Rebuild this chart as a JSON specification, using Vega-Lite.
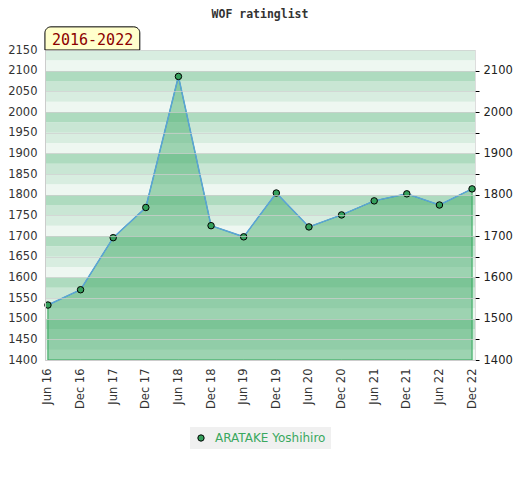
{
  "$schema": "https://vega.github.io/schema/vega-lite/v6.json",
  "width": 430,
  "height": 310,
  "autosize": "none",
  "padding": {"left": 45, "top": 50, "right": 45, "bottom": 120},
  "title": {
    "text": "WOF ratinglist",
    "font": "DejaVu Sans Mono",
    "fontSize": 11.5,
    "fontWeight": "bold",
    "color": "#333333",
    "anchor": "middle",
    "offset": 6
  },
  "datasets": {
    "ratings": [
      {"period": "Jun 16", "rating": 1533, "player": "ARATAKE Yoshihiro"},
      {"period": "Dec 16", "rating": 1570, "player": "ARATAKE Yoshihiro"},
      {"period": "Jun 17", "rating": 1696, "player": "ARATAKE Yoshihiro"},
      {"period": "Dec 17", "rating": 1769, "player": "ARATAKE Yoshihiro"},
      {"period": "Jun 18", "rating": 2086, "player": "ARATAKE Yoshihiro"},
      {"period": "Dec 18", "rating": 1725, "player": "ARATAKE Yoshihiro"},
      {"period": "Jun 19", "rating": 1698, "player": "ARATAKE Yoshihiro"},
      {"period": "Dec 19", "rating": 1804, "player": "ARATAKE Yoshihiro"},
      {"period": "Jun 20", "rating": 1722, "player": "ARATAKE Yoshihiro"},
      {"period": "Dec 20", "rating": 1751, "player": "ARATAKE Yoshihiro"},
      {"period": "Jun 21", "rating": 1785, "player": "ARATAKE Yoshihiro"},
      {"period": "Dec 21", "rating": 1802, "player": "ARATAKE Yoshihiro"},
      {"period": "Jun 22", "rating": 1775, "player": "ARATAKE Yoshihiro"},
      {"period": "Dec 22", "rating": 1814, "player": "ARATAKE Yoshihiro"}
    ],
    "bands": [
      {"lo": 1400, "hi": 1425, "q": 0}, {"lo": 1425, "hi": 1450, "q": 1},
      {"lo": 1450, "hi": 1475, "q": 2}, {"lo": 1475, "hi": 1500, "q": 3},
      {"lo": 1500, "hi": 1525, "q": 0}, {"lo": 1525, "hi": 1550, "q": 1},
      {"lo": 1550, "hi": 1575, "q": 2}, {"lo": 1575, "hi": 1600, "q": 3},
      {"lo": 1600, "hi": 1625, "q": 0}, {"lo": 1625, "hi": 1650, "q": 1},
      {"lo": 1650, "hi": 1675, "q": 2}, {"lo": 1675, "hi": 1700, "q": 3},
      {"lo": 1700, "hi": 1725, "q": 0}, {"lo": 1725, "hi": 1750, "q": 1},
      {"lo": 1750, "hi": 1775, "q": 2}, {"lo": 1775, "hi": 1800, "q": 3},
      {"lo": 1800, "hi": 1825, "q": 0}, {"lo": 1825, "hi": 1850, "q": 1},
      {"lo": 1850, "hi": 1875, "q": 2}, {"lo": 1875, "hi": 1900, "q": 3},
      {"lo": 1900, "hi": 1925, "q": 0}, {"lo": 1925, "hi": 1950, "q": 1},
      {"lo": 1950, "hi": 1975, "q": 2}, {"lo": 1975, "hi": 2000, "q": 3},
      {"lo": 2000, "hi": 2025, "q": 0}, {"lo": 2025, "hi": 2050, "q": 1},
      {"lo": 2050, "hi": 2075, "q": 2}, {"lo": 2075, "hi": 2100, "q": 3},
      {"lo": 2100, "hi": 2125, "q": 0}, {"lo": 2125, "hi": 2150, "q": 1}
    ]
  },
  "layer": [
    {
      "data": {"name": "bands"},
      "mark": {"type": "rect", "strokeWidth": 0},
      "encoding": {
        "y": {
          "field": "lo",
          "type": "quantitative",
          "scale": {"domain": [1400, 2150], "nice": false, "zero": false},
          "axis": {
            "orient": "left",
            "title": null,
            "format": "d",
            "values": [1400, 1450, 1500, 1550, 1600, 1650, 1700, 1750, 1800, 1850, 1900, 1950, 2000, 2050, 2100, 2150],
            "ticks": false,
            "labelPadding": 8,
            "labelFontSize": 11.5,
            "labelColor": "#333333",
            "domainColor": "#cccccc",
            "grid": true,
            "gridColor": "#cfcfcf",
            "gridOpacity": 0.7,
            "zindex": 1
          }
        },
        "y2": {"field": "hi"},
        "fill": {
          "field": "q",
          "type": "ordinal",
          "scale": {"domain": [0, 1, 2, 3], "range": ["#eef7f1", "#d8ede0", "#c9e6d4", "#aedbbf"]},
          "legend": null
        }
      }
    },
    {
      "data": {"name": "ratings"},
      "mark": {"type": "area", "fill": "rgb(66,170,104)", "fillOpacity": 0.47, "stroke": "#2fa659", "strokeWidth": 1},
      "encoding": {
        "x": {
          "field": "period",
          "type": "ordinal",
          "sort": null,
          "scale": {"type": "point", "padding": 0.09},
          "axis": {
            "title": null,
            "labelAngle": -90,
            "ticks": false,
            "labelPadding": 8,
            "labelFontSize": 11.5,
            "labelColor": "#333333",
            "domainColor": "#cccccc",
            "zindex": 1
          }
        },
        "y": {
          "field": "rating",
          "type": "quantitative",
          "scale": {"domain": [1400, 2150], "nice": false, "zero": false},
          "axis": null
        },
        "y2": {"datum": 1400}
      }
    },
    {
      "data": {"name": "ratings"},
      "mark": {"type": "line", "color": "#5ba3d8", "strokeWidth": 1.5},
      "encoding": {
        "x": {"field": "period", "type": "ordinal", "sort": null},
        "y": {
          "field": "rating",
          "type": "quantitative",
          "scale": {"domain": [1400, 2150], "nice": false, "zero": false},
          "axis": null
        }
      }
    },
    {
      "data": {"name": "ratings"},
      "mark": {"type": "point", "shape": "circle", "filled": true, "size": 42, "stroke": "black", "strokeWidth": 1, "opacity": 1},
      "encoding": {
        "x": {"field": "period", "type": "ordinal", "sort": null},
        "y": {
          "field": "rating",
          "type": "quantitative",
          "scale": {"domain": [1400, 2150], "nice": false, "zero": false},
          "axis": {
            "orient": "right",
            "title": null,
            "format": "d",
            "values": [1400, 1450, 1500, 1550, 1600, 1650, 1700, 1750, 1800, 1850, 1900, 1950, 2000, 2050, 2100],
            "labelExpr": "datum.value % 100 == 0 ? datum.label : ''",
            "ticks": true,
            "tickSize": 4,
            "tickColor": "#000000",
            "labelPadding": 4,
            "labelFontSize": 11.5,
            "labelColor": "#222222",
            "domain": false,
            "grid": false
          }
        },
        "color": {
          "field": "player",
          "type": "nominal",
          "scale": {"range": ["#35a05c"]},
          "legend": {
            "title": null,
            "orient": "bottom",
            "direction": "horizontal",
            "offset": 18,
            "fillColor": "#f0f0f0",
            "padding": 5,
            "symbolType": "circle",
            "symbolSize": 40,
            "symbolStrokeColor": "#000000",
            "symbolStrokeWidth": 1,
            "labelColor": "#3aa85e",
            "labelFontSize": 12,
            "labelOffset": 8
          }
        }
      }
    },
    {
      "data": {"values": [{"label": "2016-2022"}]},
      "mark": {"type": "rect", "fill": "#ffffcc", "stroke": "#000000", "strokeWidth": 1, "cornerRadiusTopLeft": 6, "cornerRadiusTopRight": 6, "xOffset": -3, "x2Offset": -6},
      "encoding": {
        "x": {"datum": "Jun 16"},
        "x2": {"datum": "Dec 17"},
        "y": {"datum": 2150, "scale": {"domain": [1400, 2150], "nice": false, "zero": false}, "axis": null},
        "y2": {"datum": 2206}
      }
    },
    {
      "data": {"values": [{"label": "2016-2022"}]},
      "mark": {"type": "text", "font": "DejaVu Sans Mono", "fontSize": 15, "color": "#8b0000", "align": "center", "baseline": "middle", "dx": 12},
      "encoding": {
        "x": {"datum": "Dec 16"},
        "y": {"datum": 2174, "scale": {"domain": [1400, 2150], "nice": false, "zero": false}, "axis": null},
        "text": {"field": "label"}
      }
    }
  ],
  "resolve": {"axis": {"y": "independent"}},
  "config": {
    "view": {"stroke": "#dddddd"},
    "font": "DejaVu Sans",
    "legend": {"layout": {"bottom": {"anchor": "middle"}}}
  }
}
